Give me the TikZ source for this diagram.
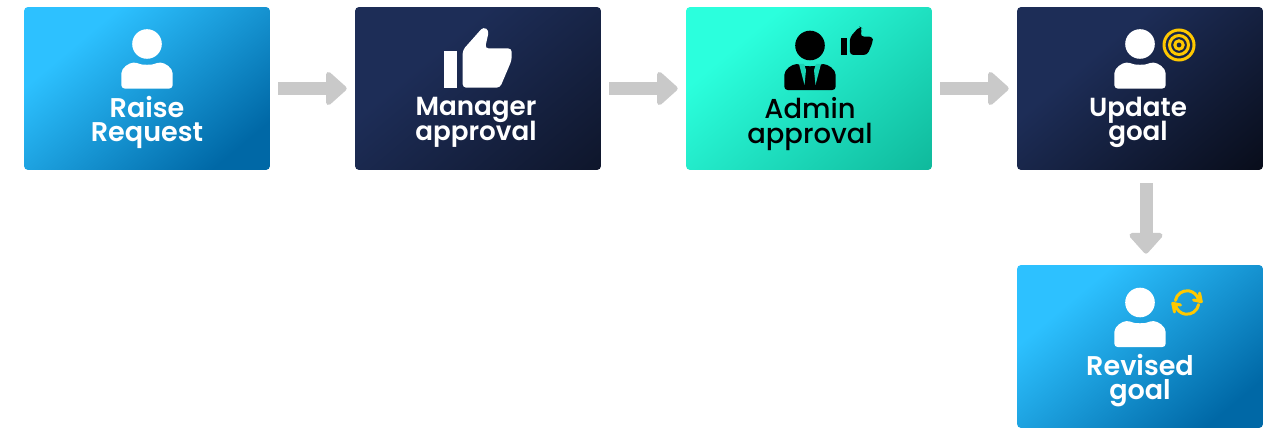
\documentclass[tikz,border=0pt]{standalone}
\usepackage{fontspec}
\setmainfont{Poppins}[BoldFont=Poppins SemiBold]
\newfontfamily\medfont{Poppins Medium}
\definecolor{skytop}{HTML}{2DC1FF}
\definecolor{skylow}{HTML}{0068A6}
\definecolor{navytop}{HTML}{1D2D57}
\definecolor{navylow}{HTML}{0A0F1E}
\definecolor{inktop}{HTML}{1D2D57}
\definecolor{inklow}{HTML}{020308}
\definecolor{minttop}{HTML}{2BFFDD}
\definecolor{mintlow}{HTML}{08A68A}
\definecolor{flowgrey}{HTML}{C9C9C9}
\definecolor{sunny}{HTML}{FFC800}
\usetikzlibrary{arrows.meta}
\pgfdeclarehorizontalshading{skyfill}{100bp}{color(0bp)=(skytop); color(30bp)=(skytop); color(76bp)=(skylow); color(100bp)=(skylow)}
\pgfdeclarehorizontalshading{navyfill}{100bp}{color(0bp)=(navytop); color(36bp)=(navytop); color(100bp)=(navylow)}
\pgfdeclarehorizontalshading{inkfill}{100bp}{color(0bp)=(inktop); color(36bp)=(inktop); color(100bp)=(inklow)}
\pgfdeclarehorizontalshading{mintfill}{100bp}{color(0bp)=(minttop); color(30bp)=(minttop); color(100bp)=(mintlow)}
% size and line distance of a caption
\newcommand{\capsize}[2]{\fontsize{#1}{#2}\selectfont\lineskiplimit=-20pt}

\begin{document}
\begin{tikzpicture}[
  x=0.02cm, y=-0.02cm,
  card/.style={rounded corners=0.08cm, minimum width=4.92cm, minimum height=3.26cm,
               inner sep=0pt, shading angle=-50},
  lbl/.style={align=center, inner sep=0pt},
  flow/.style={flowgrey, line width=0.26cm,
               -{Triangle[round, length=0.44cm, width=0.76cm, line width=0.1cm]}},
  spin/.style={sunny, line width=0.06cm, line cap=round, line join=round},
  person/.pic={
    \fill (0,0) circle (14.8);
    \fill[rounded corners=0.07cm] (-25.7,44.6) -- (-25.7,33)
      .. controls (-25.7,24) and (-18,18.6) .. (-10,18.6)
      .. controls (-5,21) and (5,21) .. (10,18.6)
      .. controls (18,18.6) and (25.7,24) .. (25.7,33) -- (25.7,44.6) -- cycle;
  },
  thumb/.pic={
    \fill (-33.7,-6.3) rectangle (-21,30.3);
    \fill[rounded corners=0.07cm] (-15.3,30.3) -- (-15.3,-7.3) -- (5.3,-30.5) -- (11,-27)
      -- (7,-9) -- (33.7,-9) -- (33.7,2.7) -- (22,30.3) -- cycle;
  },
]

% top row and the one card below it
\node[card, shading=skyfill] (raise) at (147,88.5) {};
\node[card, shading=navyfill] (manager) at (478,88.5) {};
\node[card, shading=mintfill] (admin) at (809,88.5) {};
\node[card, shading=inkfill] (update) at (1140,88.5) {};
\node[card, shading=skyfill] (revised) at (1140,346.5) {};

\draw[flow, shorten <=0.16cm, shorten >=0.16cm] (raise) -- (manager);
\draw[flow, shorten <=0.16cm, shorten >=0.16cm] (manager) -- (admin);
\draw[flow, shorten <=0.16cm, shorten >=0.16cm] (admin) -- (update);
\draw[flow, shorten <=0.26cm, shorten >=0.22cm] ([xshift=0.12cm]update.south) -- ([xshift=0.12cm]revised.north);

% icons
\pic[white] at (147,44) {person};
\pic[white] at (478,57.4) {thumb};
\pic[black, scale=0.468] at (857,40.8) {thumb};
\pic[black] at (810,45.5) {person};
\fill[minttop!50!mintlow] (799,64) -- (804,64) -- (806,70) -- (804.5,85) -- cycle;
\fill[minttop!50!mintlow] (821,64) -- (816,64) -- (814,70) -- (815.5,85) -- cycle;

\pic[white] at (1140,44) {person};
\draw[sunny, line width=0.06cm] (1179,45) circle (15);
\draw[sunny, line width=0.06cm] (1179,45) circle (9.5);
\draw[sunny, line width=0.06cm] (1179,45) circle (4.2);

\pic[white] at (1140,302.5) {person};
\draw[spin] (1175.4,300.5) arc (190:345:11.8)
  (1193.5,300) -- (1201.3,301.7) -- (1199.5,293);
\draw[spin] (1198.6,304.5) arc (10:165:11.8)
  (1180.5,305) -- (1172.7,303.3) -- (1174.5,312);

% captions
\node[lbl, white, font=\capsize{15.4}{14}\bfseries] (raiseT) at (147,122.5) {Raise\\Request};
\node[lbl, white, font=\capsize{14.9}{14}\bfseries] (managerT) at (476,122.5) {Manager\\approval};
\node[lbl, black, font=\capsize{15.6}{14.3}\medfont] (adminT) at (810,124) {Admin\\approval};
\node[lbl, white, font=\capsize{14.9}{14}\bfseries] (updateT) at (1138,122.5) {Update\\goal};
\node[lbl, white, font=\capsize{15.4}{14}\bfseries] (revisedT) at (1140,380.5) {Revised\\goal};

\useasboundingbox (0,0) rectangle (1287,435);
\end{tikzpicture}
\end{document}
